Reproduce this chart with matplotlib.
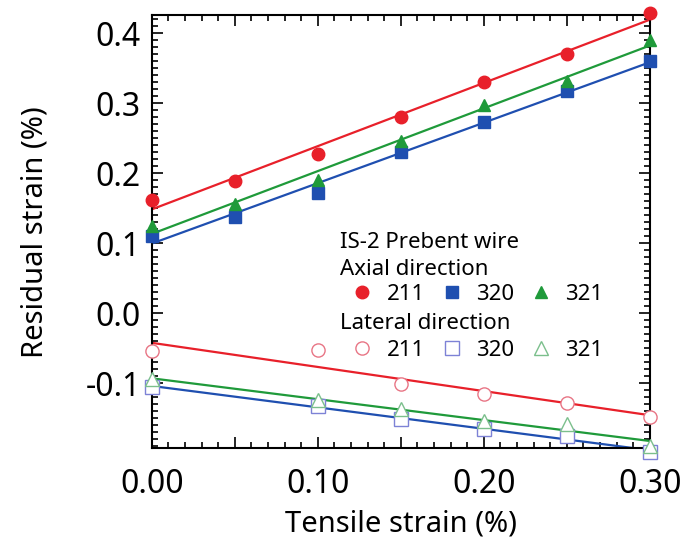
import numpy as np
import matplotlib
matplotlib.use("Agg")
import matplotlib.pyplot as plt
from matplotlib.ticker import MultipleLocator, FuncFormatter

plt.rcParams['font.family'] = ['Noto Sans', 'DejaVu Sans']

# tensile strain (%)
x_axial = [0.00, 0.05, 0.10, 0.15, 0.20, 0.25, 0.30]
x_lateral = [0.00, 0.10, 0.15, 0.20, 0.25, 0.30]

# residual strain (%) - axial direction
ax_211 = [0.162, 0.189, 0.228, 0.280, 0.330, 0.370, 0.429]
ax_320 = [0.111, 0.138, 0.172, 0.231, 0.274, 0.318, 0.360]
ax_321 = [0.124, 0.156, 0.191, 0.246, 0.297, 0.332, 0.390]

# residual strain (%) - lateral direction
lat_211 = [-0.054, -0.052, -0.101, -0.116, -0.128, -0.148]
lat_320 = [-0.105, -0.133, -0.151, -0.166, -0.176, -0.199]
lat_321 = [-0.094, -0.124, -0.137, -0.154, -0.158, -0.190]

labels = ['211', '320', '321']
colors = ['#e8202a', '#1f4fb0', '#1f9a3a']
light = ['#e87585', '#7d82d6', '#7bbf8c']
markers = ['o', 's', '^']

fig = plt.figure(figsize=(6.84, 5.42), dpi=100)
ax = fig.add_axes([0.222, 0.173, 0.728, 0.799])

xfit = np.array([0.0, 0.30])
axial_handles = []
for ys, c, m, lab in zip([ax_211, ax_320, ax_321], colors, markers, labels):
    k, b = np.polyfit(x_axial, ys, 1)
    ax.plot(xfit, k * xfit + b, color=c, lw=1.6, zorder=2)
    h, = ax.plot(x_axial, ys, ls='none', marker=m, ms=9, color=c,
                 mec=c, clip_on=False, zorder=3, label=lab)
    axial_handles.append(h)

lateral_handles = []
for ys, c, lc, m, lab in zip([lat_211, lat_320, lat_321], colors, light, markers, labels):
    k, b = np.polyfit(x_lateral, ys, 1)
    ax.plot(xfit, k * xfit + b, color=c, lw=1.6, zorder=2)
    h, = ax.plot(x_lateral, ys, ls='none', marker=m, ms=9.5, mfc='white',
                 mec=lc, mew=1.0, clip_on=False, zorder=3, label=lab)
    lateral_handles.append(h)

ax.set_xlim(0.0, 0.30)
ax.set_ylim(-0.193, 0.426)

ax.xaxis.set_major_locator(MultipleLocator(0.05))
ax.xaxis.set_minor_locator(MultipleLocator(0.01))
ax.xaxis.set_major_formatter(FuncFormatter(
    lambda v, p: f"{v:.2f}" if abs(round(v / 0.1) * 0.1 - v) < 1e-6 else ""))
ax.yaxis.set_major_locator(MultipleLocator(0.1))
ax.yaxis.set_minor_locator(MultipleLocator(0.01))
ax.yaxis.set_major_formatter(FuncFormatter(lambda v, p: f"{v:.1f}"))

ax.tick_params(which='both', direction='in', top=True, right=True, width=1.2)
ax.tick_params(which='major', length=8, labelsize=23)
ax.tick_params(axis='x', which='major', pad=14)
ax.tick_params(axis='y', which='major', pad=8)
ax.tick_params(which='minor', length=4)
for s in ax.spines.values():
    s.set_linewidth(1.5)

ax.set_xlabel('Tensile strain (%)', fontsize=21, labelpad=6)
ax.set_ylabel('Residual strain (%)', fontsize=21, labelpad=26)

# legend block: headings as text, marker rows as legends
txt_kw = dict(transform=ax.transAxes, fontsize=16, va='center', ha='left')
ax.text(0.378, 0.476, 'IS-2 Prebent wire', **txt_kw)
ax.text(0.378, 0.413, 'Axial direction', **txt_kw)
ax.text(0.378, 0.289, 'Lateral direction', **txt_kw)

leg_kw = dict(ncol=3, loc='center left', frameon=False, fontsize=16,
              handletextpad=0.6, columnspacing=0.7, handlelength=1.0,
              borderaxespad=0, borderpad=0)
leg1 = ax.legend(handles=axial_handles, bbox_to_anchor=(0.400, 0.356), **leg_kw)
ax.add_artist(leg1)
leg2 = ax.legend(handles=lateral_handles, bbox_to_anchor=(0.400, 0.226), **leg_kw)

fig.savefig('out.png', dpi=100)
